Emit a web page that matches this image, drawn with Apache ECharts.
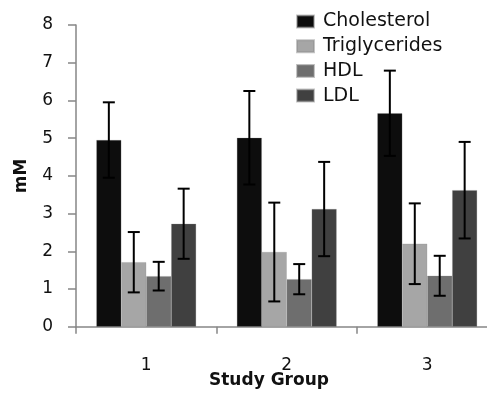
<!DOCTYPE html>
<html>
<head>
<meta charset="utf-8">
<script src="https://cdn.jsdelivr.net/npm/echarts@6/dist/echarts.min.js"></script>
<style>html,body{margin:0;padding:0;background:#fff;overflow:hidden;width:487px;height:397px}#c{width:498px;height:397px}</style>
</head>
<body>
<div id="c"></div>
<script>
var categories = ['1', '2', '3'];
var seriesNames = ['Cholesterol', 'Triglycerides', 'HDL', 'LDL'];
var cholesterol = [4.95, 5.01, 5.66];
var triglycerides = [1.71, 1.98, 2.20];
var hdl = [1.34, 1.26, 1.35];
var ldl = [2.73, 3.12, 3.62];
var cholesterolErr = [1.00, 1.24, 1.13];
var triglyceridesErr = [0.80, 1.31, 1.07];
var hdlErr = [0.38, 0.40, 0.53];
var ldlErr = [0.93, 1.25, 1.28];
var yTicks = [0, 1, 2, 3, 4, 5, 6, 7, 8];

var values = [cholesterol, triglycerides, hdl, ldl];
var errs = [cholesterolErr, triglyceridesErr, hdlErr, ldlErr];
var colors = ['#0d0d0d', '#a6a6a6', '#6e6e6e', '#404040'];
var FONT = 'DejaVu Sans';
var CAT_GAP = 0.29;

var errData = [];
values.forEach(function (vals, s) {
  vals.forEach(function (v, i) {
    errData.push([i, v - errs[s][i], v + errs[s][i], s]);
  });
});

var series = values.map(function (vals, s) {
  return {
    name: seriesNames[s], type: 'bar', data: vals,
    barGap: '0%', barCategoryGap: (CAT_GAP * 100) + '%',
    itemStyle: { color: colors[s], borderColor: 'rgba(140,140,140,0.5)', borderWidth: 0.5 },
    z: 2
  };
});
series.push({
  type: 'custom', name: 'err', z: 5, silent: true,
  data: errData,
  renderItem: function (params, api) {
    var i = api.value(0), lo = api.value(1), hi = api.value(2), s = api.value(3);
    var band = api.size([1, 0])[0];
    var barW = band * (1 - CAT_GAP) / 4;
    var off = (s - 1.5) * barW;
    var pLo = api.coord([i, lo]);
    var pHi = api.coord([i, hi]);
    var x = pLo[0] + off;
    var cap = 6;
    var st = { stroke: '#000', lineWidth: 2 };
    return {
      type: 'group', children: [
        { type: 'line', shape: { x1: x, y1: pLo[1], x2: x, y2: pHi[1] }, style: st },
        { type: 'line', shape: { x1: x - cap, y1: pLo[1], x2: x + cap, y2: pLo[1] }, style: st },
        { type: 'line', shape: { x1: x - cap, y1: pHi[1], x2: x + cap, y2: pHi[1] }, style: st }
      ]
    };
  }
});

var chart = echarts.init(document.getElementById('c'), null, { renderer: 'canvas' });
chart.setOption({
  animation: false,
  backgroundColor: '#fff',
  grid: { left: 76, top: 25, right: 0.5, bottom: 70.3, containLabel: false },
  legend: {
    data: seriesNames, orient: 'vertical', left: 291, top: 7,
    itemWidth: 17, itemHeight: 12, itemGap: 5.7,
    icon: 'rect',
    textStyle: { fontFamily: FONT, fontSize: 19, color: '#111', padding: [0, 0, 0, 4] }
  },
  xAxis: {
    type: 'category', data: categories,
    axisLine: { lineStyle: { color: '#868686', width: 1.5 } },
    axisTick: { show: true, length: 7, lineStyle: { color: '#868686', width: 1.5 } },
    axisLabel: { fontFamily: FONT, fontSize: 17, color: '#111', margin: 30 }
  },
  yAxis: {
    type: 'value', min: yTicks[0], max: yTicks[yTicks.length - 1], interval: 1,
    name: 'mM', nameLocation: 'middle', nameRotate: 90, nameGap: 46,
    nameTextStyle: { fontFamily: FONT, fontSize: 17, fontWeight: 'bold', color: '#111' },
    axisLine: { show: true, lineStyle: { color: '#868686', width: 1.5 } },
    axisTick: { show: true, length: 8, lineStyle: { color: '#868686', width: 1.5 } },
    splitLine: { show: false },
    axisLabel: { fontFamily: FONT, fontSize: 17, color: '#111', margin: 23 }
  },
  graphic: [{
    type: 'text', left: 209, top: 372,
    style: { text: 'Study Group', font: 'bold 17px "DejaVu Sans"', fill: '#111' }
  }],
  series: series
});
</script>
</body>
</html>
